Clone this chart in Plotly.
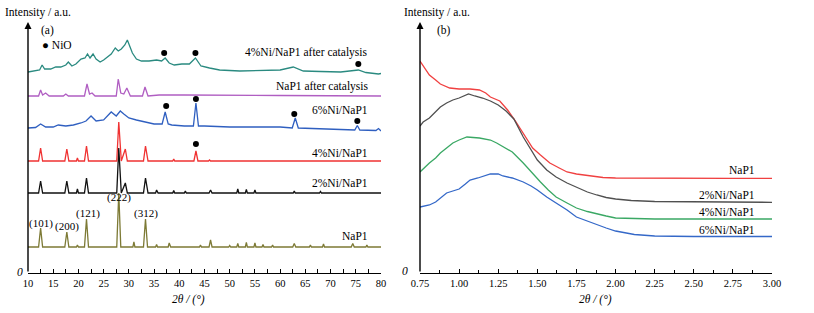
import plotly.graph_objects as go

# ---------------- Panel (a): XRD, wide angle ----------------
# Intensities in arbitrary units (stacked, offset curves)
napl_x = [10, 12.1, 12.5, 12.9, 17.3, 17.7, 18.1, 19.6, 19.8, 20.0, 21.2, 21.6, 22.0, 27.6, 28.0, 28.4,
          30.8, 31.0, 31.2, 32.9, 33.3, 33.7, 35.3, 35.5, 35.7, 37.8, 38.0, 38.3, 44.0, 44.2, 44.4,
          45.9, 46.2, 46.5, 49.8, 50.0, 50.2, 51.4, 51.6, 51.8, 53.1, 53.3, 53.5, 54.8, 55.0, 55.2,
          56.4, 56.6, 56.8, 58.3, 58.5, 58.7, 62.5, 62.8, 63.1, 65.8, 66.0, 66.2, 68.4, 68.6, 68.8,
          74.1, 74.4, 74.7, 77.0, 77.2, 77.4, 80]
napl_y = [26, 26, 45, 26, 26, 41, 26, 26, 28, 26, 26, 54, 26, 26, 80, 26,
          26, 31, 26, 26, 54, 26, 26, 28.5, 26, 26, 30, 26, 26, 28, 26,
          26, 33, 26, 26, 27.5, 26, 26, 29.5, 26, 26, 30.5, 26, 26, 30, 26,
          26, 28.5, 26, 26, 28, 26, 26, 29.5, 26, 26, 28, 26, 26, 29, 26,
          26, 29.5, 26, 26, 28, 26, 26]

ni2_x = [10, 12.1, 12.5, 12.9, 17.3, 17.7, 18.1, 19.6, 19.8, 20.0, 21.2, 21.6, 22.0, 27.6, 28.0, 28.5,
         29.3, 29.7, 32.9, 33.3, 33.8, 35.3, 35.5, 35.8, 38.7, 38.9, 39.1, 41.0, 41.2, 41.4, 45.9, 46.2,
         46.5, 51.4, 51.6, 51.8, 53.1, 53.3, 53.5, 54.8, 55.0, 55.2, 62.6, 62.8, 63.0, 67.8, 68.0, 68.2, 80]
ni2_y = [80, 80, 92, 80, 80, 92, 80, 80, 84, 80, 80, 95, 80, 80, 125, 80,
         90, 80, 80, 95, 80, 80, 83, 80, 80, 82.5, 80, 80, 82, 80, 80, 83,
         80, 80, 84, 80, 80, 83.5, 80, 80, 83, 80, 80, 82, 80, 80, 81.5, 80, 80]

ni4_x = [10, 12.1, 12.5, 12.9, 17.3, 17.7, 18.1, 19.6, 19.8, 20.0, 21.2, 21.6, 22.0, 27.6, 28.0, 28.5,
         29.3, 29.7, 32.9, 33.3, 33.8, 38.7, 38.9, 39.1, 42.9, 43.3, 43.7, 45.8, 46.0, 46.2, 80]
ni4_y = [112, 112, 125, 112, 112, 124, 112, 112, 115, 112, 112, 127, 112, 112, 151, 112,
         124, 112, 112, 127, 112, 112, 114, 112, 112, 122, 112, 112, 113, 112, 112]

ni6_x = [10, 11.5, 12.5, 13.5, 15, 16, 17.5, 19, 20.5, 21.5, 22.5, 23.5, 25, 26.5, 27.5, 28.3, 29,
         30, 31.5, 33, 35, 36.6, 37.2, 37.8, 38.5, 41, 42.8, 43.3, 43.8, 45, 50, 55, 60, 62.4, 63,
         63.6, 70, 74.8, 75.3, 75.8, 79, 79.5, 80]
ni6_y = [145, 145.5, 149, 146, 146, 148, 147, 148, 150, 152, 157, 152, 153, 161, 157, 162, 159,
         155, 153, 151, 149, 149, 161, 149, 148, 147, 147, 170, 147, 147, 146, 146, 146, 145, 155,
         145, 144, 143, 147.5, 143, 142.5, 144.5, 142]

napl_cat_x = [10, 12.1, 12.5, 12.9, 13.5, 14.2, 17.0, 17.5, 18.0, 21.2, 21.7, 22.2, 22.7, 23.3,
              27.5, 27.9, 28.4, 29.0, 29.6, 30.3, 32.7, 33.2, 33.8, 36.0, 41.0, 45.0, 60.0, 80]
napl_cat_y = [177, 177, 183, 178, 180, 177, 177, 179, 177, 177, 189, 179, 180, 177,
              177, 194, 180, 179, 185, 177, 177, 186, 177, 178, 178, 178, 177.5, 177]

ni4_cat_x = [10, 11, 12.3, 12.8, 13.3, 14.5, 15.5, 16.5, 17.5, 18.0, 18.7, 19.5, 20.5, 21.3, 21.8,
             22.3, 22.9, 23.5, 24.3, 25.0, 25.8, 26.5, 27.3, 27.9, 28.5, 29.2, 29.7, 30.2, 30.7,
             31.5, 32.5, 34.0, 35.5, 36.5, 37.2, 38.0, 39.0, 40.5, 42.0, 43.2, 44.3, 46.0, 48.0,
             52.0, 56.0, 60.0, 62.6, 64.6, 68.0, 72.0, 75.5, 77.0, 79.5, 80]
ni4_cat_y = [201, 202, 203, 208, 204, 204, 206, 206, 208, 211, 207, 209, 214, 215, 219,
             215, 219, 214, 211, 213, 216, 219, 225, 222, 224, 228, 233, 226, 220,
             214, 212, 212, 213, 212, 215, 210, 208, 209, 209, 215, 207, 205, 203,
             202, 202.5, 203, 206, 202, 201.5, 201, 203, 200.5, 199, 199.5]

# NiO markers
nio_x = [37.0, 43.2, 75.5, 37.4, 43.3, 62.8, 75.3, 43.3]
nio_y = [220, 220, 209, 167, 174, 159, 152, 129]

# ---------------- Panel (b): small angle ----------------
b_nap1_x = [0.75, 0.78, 0.81, 0.85, 0.88, 0.94, 1.00, 1.07, 1.13, 1.17, 1.20, 1.26, 1.31, 1.36, 1.41,
            1.47, 1.52, 1.58, 1.64, 1.69, 1.75, 1.84, 1.92, 2.0, 2.25, 2.5, 2.75, 3.0]
b_nap1_y = [212, 205, 198, 193, 189, 185, 184, 184, 183, 180, 176, 172, 163, 152, 140,
            125, 118, 110, 105, 101, 99, 97, 95.5, 95, 94.7, 94.7, 94.7, 94.7]

b_ni2_x = [0.75, 0.77, 0.81, 0.85, 0.88, 0.92, 0.96, 1.00, 1.06, 1.10, 1.15, 1.20, 1.25, 1.30, 1.35,
           1.41, 1.46, 1.50, 1.56, 1.62, 1.69, 1.75, 1.82, 1.88, 1.94, 2.0, 2.1, 2.25, 2.5, 3.0]
b_ni2_y = [147, 151, 155, 161, 166, 170, 173, 175, 179, 177, 175, 172, 168, 162, 154,
           136, 123, 113, 103, 96, 90, 86, 81, 78, 75.5, 74, 72.5, 71.5, 71, 70.7]

b_ni4_x = [0.75, 0.78, 0.81, 0.85, 0.88, 0.92, 0.96, 1.00, 1.05, 1.13, 1.20, 1.24, 1.30, 1.34, 1.41,
           1.46, 1.52, 1.57, 1.62, 1.69, 1.75, 1.82, 1.88, 1.94, 2.0, 2.1, 2.25, 3.0]
b_ni4_y = [101, 106, 110, 115, 120, 125, 130, 133, 136, 135, 133, 130, 125, 121, 110,
           101, 91, 83, 76, 70, 65, 61.5, 59, 57, 55, 54.3, 54, 54]

b_ni6_x = [0.75, 0.81, 0.85, 0.88, 0.92, 0.96, 1.00, 1.04, 1.07, 1.12, 1.16, 1.20, 1.25, 1.28, 1.34,
           1.41, 1.46, 1.50, 1.56, 1.62, 1.69, 1.75, 1.82, 1.88, 1.94, 2.0, 2.12, 2.25, 2.5, 3.0]
b_ni6_y = [66, 68, 71, 75, 80, 82, 84, 89, 93, 95, 97, 99, 99, 97, 95,
           91, 87, 83, 76, 70, 63, 56, 52, 48, 45, 42, 38.5, 37, 36.5, 36.5]

left_ticks = list(range(10, 85, 5))
right_ticks = [0.75, 1.00, 1.25, 1.50, 1.75, 2.00, 2.25, 2.50, 2.75, 3.00]
right_ticktext = ["0.75", "1.00", "1.25", "1.50", "1.75", "2.00", "2.25", "2.50", "2.75", "3.00"]

FONT = "Liberation Serif, Times New Roman, serif"
W, H = 814, 313
YMAX = 251
Y0 = 273  # window pixel row of the x-axes


def fx(px):
    return px / W


def fy(py):
    return 1 - py / H


fig = go.Figure()


def add(x, y, color, axis=1, width=1.3):
    fig.add_trace(go.Scatter(x=x, y=y, mode="lines", line=dict(color=color, width=width),
                             xaxis="x" if axis == 1 else "x2", yaxis="y" if axis == 1 else "y2",
                             hoverinfo="skip", showlegend=False))


add(napl_x, napl_y, "#7d7a35")
add(ni2_x, ni2_y, "#111111")
add(ni4_x, ni4_y, "#f03232")
add(ni6_x, ni6_y, "#2f5fc0")
add(napl_cat_x, napl_cat_y, "#b05ec2")
add(ni4_cat_x, ni4_cat_y, "#2a8a80")
fig.add_trace(go.Scatter(x=nio_x, y=nio_y, mode="markers", marker=dict(color="black", size=6),
                         xaxis="x", yaxis="y", showlegend=False, hoverinfo="skip"))

add(b_nap1_x, b_nap1_y, "#f04040", 2)
add(b_ni2_x, b_ni2_y, "#505050", 2)
add(b_ni4_x, b_ni4_y, "#3aa864", 2)
add(b_ni6_x, b_ni6_y, "#3468c8", 2)

axis_common = dict(showgrid=False, zeroline=False, showline=True, linecolor="black", linewidth=1.3,
                   ticks="inside", ticklen=4, tickcolor="black", tickwidth=1, automargin=False,
                   tickfont=dict(family=FONT, size=10.5, color="black"))

ydom = [fy(Y0), fy(Y0 - YMAX)]
fig.update_layout(
    width=W, height=H, margin=dict(l=0, r=0, t=0, b=0, pad=0, autoexpand=False), autosize=False,
    paper_bgcolor="white", plot_bgcolor="white", hovermode=False,
    xaxis=dict(domain=[fx(28), fx(381)], range=[10, 80], tickvals=left_ticks,
               minor=dict(dtick=2.5, tick0=10, ticks="inside", ticklen=4, tickcolor="black"),
               anchor="y", **axis_common),
    yaxis=dict(domain=ydom, range=[0, YMAX], visible=False, anchor="x"),
    xaxis2=dict(domain=[fx(420), fx(772)], range=[0.75, 3.0], tickvals=right_ticks,
                ticktext=right_ticktext,
                minor=dict(dtick=0.125, tick0=0.75, ticks="inside", ticklen=3, tickcolor="black"),
                anchor="y2", **axis_common),
    yaxis2=dict(domain=ydom, range=[0, YMAX], visible=False, anchor="x2"),
)


def txt(x, y, text, xref="x", yref="y", xanchor="center", size=11.5, italic=False):
    fig.add_annotation(x=x, y=y, xref=xref, yref=yref, text=text, showarrow=False,
                       xanchor=xanchor, yanchor="middle",
                       font=dict(family=FONT, size=size, color="black",
                                 style="italic" if italic else "normal"))


# y-axis arrows
for xr, yr, x0 in (("x", "y", 10), ("x2", "y2", 0.75)):
    fig.add_annotation(x=x0, y=YMAX, ax=x0, ay=0, xref=xr, yref=yr, axref=xr, ayref=yr,
                       showarrow=True, arrowhead=2, arrowsize=1, arrowwidth=1.4, arrowcolor="black",
                       text="")


def ptxt(px, py, text, xanchor="center", size=11.5, italic=False):
    txt(fx(px), fy(py), text, xref="paper", yref="paper", xanchor=xanchor, size=size, italic=italic)


ptxt(3, 13, "Intensity / a.u.", xanchor="left")
ptxt(402, 13, "Intensity / a.u.", xanchor="left")
ptxt(39, 31, "(a)", xanchor="left")
ptxt(435, 31, "(b)", xanchor="left")
ptxt(40, 45, "● NiO", xanchor="left")
ptxt(188, 299, "2<i>θ</i> / (°)", italic=True)
ptxt(595, 299, "2<i>θ</i> / (°)", italic=True)
ptxt(20, 272, "0", italic=True)
ptxt(405, 271, "0", italic=True)

# curve labels panel (a)
for y, t in ((221, "4%Ni/NaP1 after catalysis"), (187, "NaP1 after catalysis"),
             (163, "6%Ni/NaP1"), (120, "4%Ni/NaP1"), (90, "2%Ni/NaP1"), (37, "NaP1")):
    txt(77.8, y, t, xanchor="right")

# Miller indices
for x, y, t in ((12.6, 50, "(101)"), (17.8, 47, "(200)"), (21.8, 60, "(121)"),
                (28.0, 76, "(222)"), (33.4, 60, "(312)")):
    txt(x, y, t, size=11)

# curve labels panel (b)
for y, t in ((103, "NaP1"), (78, "2%Ni/NaP1"), (61, "4%Ni/NaP1"), (43, "6%Ni/NaP1")):
    txt(2.905, y, t, xref="x2", yref="y2", xanchor="right")

# the page's default body margin would shift the figure; remove it
fig.write_html("out.html", config={"displayModeBar": False, "staticPlot": True},
               post_script="document.body.style.margin='0';"
                           "document.body.style.overflow='hidden';")
